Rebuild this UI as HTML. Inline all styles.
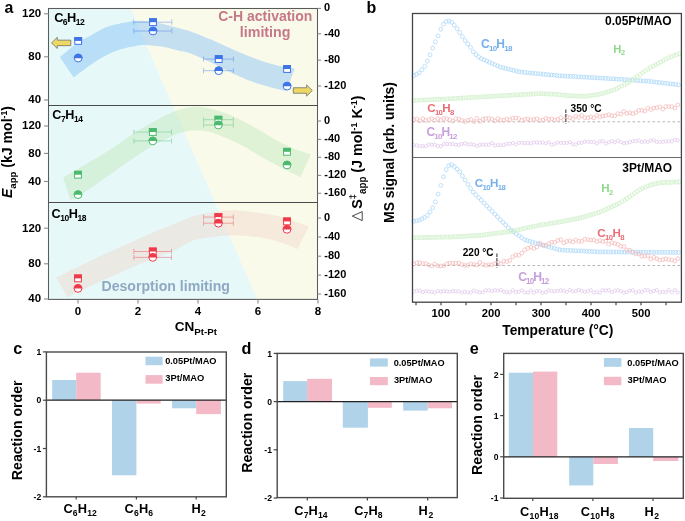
<!DOCTYPE html>
<html><head><meta charset="utf-8"><style>
html,body{margin:0;padding:0;background:#fff;width:685px;height:521px;overflow:hidden}
svg{display:block;font-family:"Liberation Sans",sans-serif;filter:blur(0.3px)}
</style></head><body>
<svg width="685" height="521" viewBox="0 0 685 521" font-family="Liberation Sans, sans-serif"><polygon points="48.5,8.5 130.6,8.5 257.5,299.4 48.5,299.4" fill="#e6f8f7"/>
<polygon points="130.6,8.5 317.5,8.5 317.5,299.4 257.5,299.4" fill="#fafaea"/>
<clipPath id="c1"><rect x="48.5" y="8.5" width="269.0" height="97.0"/></clipPath>
<clipPath id="c2"><rect x="48.5" y="105.5" width="269.0" height="97.0"/></clipPath>
<clipPath id="c3"><rect x="48.5" y="202.5" width="269.0" height="96.89999999999998"/></clipPath>
<path d="M59.9,57.1 C63.00,54.63 73.48,45.80 78.5,42.3 C83.52,38.80 85.27,38.63 90,36.1 C94.73,33.57 100.28,29.48 106.9,27.1 C113.52,24.72 123.37,22.82 129.7,21.8 C136.03,20.78 139.20,20.60 144.9,21 C150.60,21.40 158.05,22.95 163.9,24.2 C169.75,25.45 175.33,27.20 180,28.5 C184.67,29.80 186.27,29.95 191.9,32 C197.53,34.05 206.50,37.68 213.8,40.8 C221.10,43.92 228.40,47.60 235.7,50.7 C243.00,53.80 250.30,56.85 257.6,59.4 C264.90,61.95 273.30,64.47 279.5,66 C285.70,67.53 292.25,68.17 294.8,68.6 L286,91.2 C281.27,89.92 265.98,86.25 257.6,83.5 C249.22,80.75 243.00,77.98 235.7,74.7 C228.40,71.42 221.10,67.27 213.8,63.8 C206.50,60.33 197.53,56.03 191.9,53.9 C186.27,51.77 184.67,52.15 180,51 C175.33,49.85 169.75,47.98 163.9,47 C158.05,46.02 149.65,45.25 144.9,45.1 C140.15,44.95 140.15,45.15 135.4,46.1 C130.65,47.05 122.73,48.43 116.4,50.8 C110.07,53.17 104.52,55.87 97.4,60.3 C90.28,64.73 77.65,74.55 73.7,77.4 Z" fill="#73b7fa" fill-opacity="0.4" clip-path="url(#c1)"/>
<path d="M63.3,177.7 C67.90,174.97 82.90,166.08 90.9,161.3 C98.90,156.52 104.50,153.43 111.3,149 C118.10,144.57 124.88,139.12 131.7,134.7 C138.52,130.28 145.38,126.23 152.2,122.5 C159.02,118.77 166.30,114.85 172.6,112.3 C178.90,109.75 184.18,107.93 190,107.2 C195.82,106.47 201.67,106.92 207.5,107.9 C213.33,108.88 219.17,110.92 225,113.1 C230.83,115.28 236.67,118.08 242.5,121 C248.33,123.92 254.17,127.25 260,130.6 C265.83,133.95 271.67,138.03 277.5,141.1 C283.33,144.17 289.45,146.77 295,149 C300.55,151.23 308.17,153.58 310.8,154.5 L300.6,177.3 C296.75,175.35 284.27,169.15 277.5,165.6 C270.73,162.05 265.83,159.35 260,156 C254.17,152.65 248.33,148.57 242.5,145.5 C236.67,142.43 230.83,139.93 225,137.6 C219.17,135.27 213.33,132.63 207.5,131.5 C201.67,130.37 194.58,130.55 190,130.8 C185.42,131.05 182.90,132.17 180,133 C177.10,133.83 177.23,133.63 172.6,135.8 C167.97,137.97 159.02,142.08 152.2,146 C145.38,149.92 138.52,154.70 131.7,159.3 C124.88,163.90 118.10,168.83 111.3,173.6 C104.50,178.37 97.72,183.48 90.9,187.9 C84.08,192.32 73.82,198.07 70.4,200.1 Z" fill="#c4eac0" fill-opacity="0.5" clip-path="url(#c2)"/>
<path d="M56.1,277.7 C60.20,275.65 71.50,269.83 80.7,265.4 C89.90,260.97 102.80,255.02 111.3,251.1 C119.80,247.18 124.88,244.97 131.7,241.9 C138.52,238.83 145.38,235.60 152.2,232.7 C159.02,229.80 166.30,227.05 172.6,224.5 C178.90,221.95 185.37,219.07 190,217.4 C194.63,215.73 193.55,215.70 200.4,214.5 C207.25,213.30 220.88,210.40 231.1,210.2 C241.32,210.00 252.50,211.93 261.7,213.3 C270.90,214.67 278.45,216.18 286.3,218.4 C294.15,220.62 305.05,225.23 308.8,226.6 L297.5,249 C294.95,247.98 288.17,244.77 282.2,242.9 C276.23,241.03 270.22,239.08 261.7,237.8 C253.18,236.52 241.32,235.03 231.1,235.2 C220.88,235.37 207.25,237.67 200.4,238.8 C193.55,239.93 194.63,239.95 190,242 C185.37,244.05 178.90,248.22 172.6,251.1 C166.30,253.98 159.02,256.58 152.2,259.3 C145.38,262.02 138.52,264.52 131.7,267.4 C124.88,270.28 118.10,273.53 111.3,276.6 C104.50,279.67 98.22,282.38 90.9,285.8 C83.58,289.22 71.32,295.22 67.4,297.1 Z" fill="#f0d8cc" fill-opacity="0.45" clip-path="url(#c3)"/>
<rect x="48.5" y="8.5" width="269.0" height="290.9" fill="none" stroke="#5a5a5a" stroke-width="1.05"/>
<line x1="48.5" y1="105.5" x2="317.5" y2="105.5" stroke="#4a4a4a" stroke-width="1.05"/>
<line x1="48.5" y1="202.5" x2="317.5" y2="202.5" stroke="#4a4a4a" stroke-width="1.05"/>
<line x1="44.0" y1="13.8" x2="48.5" y2="13.8" stroke="#8a8a8a" stroke-width="1.1"/>
<text x="22.06" y="17.20" font-size="11" font-weight="bold" fill="#000" textLength="19.18" lengthAdjust="spacingAndGlyphs">120</text>
<line x1="44.0" y1="56.8" x2="48.5" y2="56.8" stroke="#8a8a8a" stroke-width="1.1"/>
<text x="28.39" y="60.20" font-size="11" font-weight="bold" fill="#000" textLength="12.78" lengthAdjust="spacingAndGlyphs">80</text>
<line x1="44.0" y1="100" x2="48.5" y2="100" stroke="#8a8a8a" stroke-width="1.1"/>
<text x="28.39" y="103.40" font-size="11" font-weight="bold" fill="#000" textLength="12.78" lengthAdjust="spacingAndGlyphs">40</text>
<line x1="44.0" y1="126" x2="48.5" y2="126" stroke="#8a8a8a" stroke-width="1.1"/>
<text x="22.06" y="129.40" font-size="11" font-weight="bold" fill="#000" textLength="19.18" lengthAdjust="spacingAndGlyphs">120</text>
<line x1="44.0" y1="153.4" x2="48.5" y2="153.4" stroke="#8a8a8a" stroke-width="1.1"/>
<text x="28.39" y="156.80" font-size="11" font-weight="bold" fill="#000" textLength="12.78" lengthAdjust="spacingAndGlyphs">80</text>
<line x1="44.0" y1="181.5" x2="48.5" y2="181.5" stroke="#8a8a8a" stroke-width="1.1"/>
<text x="28.39" y="184.90" font-size="11" font-weight="bold" fill="#000" textLength="12.78" lengthAdjust="spacingAndGlyphs">40</text>
<line x1="44.0" y1="228.2" x2="48.5" y2="228.2" stroke="#8a8a8a" stroke-width="1.1"/>
<text x="22.06" y="231.60" font-size="11" font-weight="bold" fill="#000" textLength="19.18" lengthAdjust="spacingAndGlyphs">120</text>
<line x1="44.0" y1="263.8" x2="48.5" y2="263.8" stroke="#8a8a8a" stroke-width="1.1"/>
<text x="28.39" y="267.20" font-size="11" font-weight="bold" fill="#000" textLength="12.78" lengthAdjust="spacingAndGlyphs">80</text>
<line x1="44.0" y1="299" x2="48.5" y2="299" stroke="#8a8a8a" stroke-width="1.1"/>
<text x="28.39" y="302.40" font-size="11" font-weight="bold" fill="#000" textLength="12.78" lengthAdjust="spacingAndGlyphs">40</text>
<line x1="317.5" y1="8.4" x2="321.1" y2="8.4" stroke="#8a8a8a" stroke-width="1.1"/>
<text x="324.00" y="11.40" fill="#000" text-anchor="start" ><tspan font-size="11.000" font-weight="bold" dy="0.000">0</tspan></text>
<line x1="317.5" y1="33.8" x2="321.1" y2="33.8" stroke="#8a8a8a" stroke-width="1.1"/>
<text x="324.30" y="36.80" fill="#000" text-anchor="start" ><tspan font-size="11.000" font-weight="bold" dy="0.000">-40</tspan></text>
<line x1="317.5" y1="60.2" x2="321.1" y2="60.2" stroke="#8a8a8a" stroke-width="1.1"/>
<text x="324.30" y="63.20" fill="#000" text-anchor="start" ><tspan font-size="11.000" font-weight="bold" dy="0.000">-80</tspan></text>
<line x1="317.5" y1="86" x2="321.1" y2="86" stroke="#8a8a8a" stroke-width="1.1"/>
<text x="324.30" y="89.00" fill="#000" text-anchor="start" ><tspan font-size="11.000" font-weight="bold" dy="0.000">-120</tspan></text>
<line x1="317.5" y1="121" x2="321.1" y2="121" stroke="#8a8a8a" stroke-width="1.1"/>
<text x="324.00" y="124.00" fill="#000" text-anchor="start" ><tspan font-size="11.000" font-weight="bold" dy="0.000">0</tspan></text>
<line x1="317.5" y1="139.4" x2="321.1" y2="139.4" stroke="#8a8a8a" stroke-width="1.1"/>
<text x="324.30" y="142.40" fill="#000" text-anchor="start" ><tspan font-size="11.000" font-weight="bold" dy="0.000">-40</tspan></text>
<line x1="317.5" y1="157.3" x2="321.1" y2="157.3" stroke="#8a8a8a" stroke-width="1.1"/>
<text x="324.30" y="160.30" fill="#000" text-anchor="start" ><tspan font-size="11.000" font-weight="bold" dy="0.000">-80</tspan></text>
<line x1="317.5" y1="175.4" x2="321.1" y2="175.4" stroke="#8a8a8a" stroke-width="1.1"/>
<text x="324.30" y="178.40" fill="#000" text-anchor="start" ><tspan font-size="11.000" font-weight="bold" dy="0.000">-120</tspan></text>
<line x1="317.5" y1="193.3" x2="321.1" y2="193.3" stroke="#8a8a8a" stroke-width="1.1"/>
<text x="324.30" y="196.30" fill="#000" text-anchor="start" ><tspan font-size="11.000" font-weight="bold" dy="0.000">-160</tspan></text>
<line x1="317.5" y1="218.1" x2="321.1" y2="218.1" stroke="#8a8a8a" stroke-width="1.1"/>
<text x="324.00" y="221.10" fill="#000" text-anchor="start" ><tspan font-size="11.000" font-weight="bold" dy="0.000">0</tspan></text>
<line x1="317.5" y1="237" x2="321.1" y2="237" stroke="#8a8a8a" stroke-width="1.1"/>
<text x="324.30" y="240.00" fill="#000" text-anchor="start" ><tspan font-size="11.000" font-weight="bold" dy="0.000">-40</tspan></text>
<line x1="317.5" y1="256.2" x2="321.1" y2="256.2" stroke="#8a8a8a" stroke-width="1.1"/>
<text x="324.30" y="259.20" fill="#000" text-anchor="start" ><tspan font-size="11.000" font-weight="bold" dy="0.000">-80</tspan></text>
<line x1="317.5" y1="275.1" x2="321.1" y2="275.1" stroke="#8a8a8a" stroke-width="1.1"/>
<text x="324.30" y="278.10" fill="#000" text-anchor="start" ><tspan font-size="11.000" font-weight="bold" dy="0.000">-120</tspan></text>
<line x1="317.5" y1="294" x2="321.1" y2="294" stroke="#8a8a8a" stroke-width="1.1"/>
<text x="324.30" y="297.00" fill="#000" text-anchor="start" ><tspan font-size="11.000" font-weight="bold" dy="0.000">-160</tspan></text>
<line x1="78" y1="299.4" x2="78" y2="303.4" stroke="#8a8a8a" stroke-width="1.1"/>
<text x="74.77" y="315.20" font-size="11" font-weight="bold" fill="#000" textLength="6.42" lengthAdjust="spacingAndGlyphs">0</text>
<line x1="138" y1="299.4" x2="138" y2="303.4" stroke="#8a8a8a" stroke-width="1.1"/>
<text x="134.82" y="315.20" font-size="11" font-weight="bold" fill="#000" textLength="6.42" lengthAdjust="spacingAndGlyphs">2</text>
<line x1="198" y1="299.4" x2="198" y2="303.4" stroke="#8a8a8a" stroke-width="1.1"/>
<text x="194.77" y="315.20" font-size="11" font-weight="bold" fill="#000" textLength="6.42" lengthAdjust="spacingAndGlyphs">4</text>
<line x1="258" y1="299.4" x2="258" y2="303.4" stroke="#8a8a8a" stroke-width="1.1"/>
<text x="254.77" y="315.20" font-size="11" font-weight="bold" fill="#000" textLength="6.42" lengthAdjust="spacingAndGlyphs">6</text>
<line x1="318" y1="299.4" x2="318" y2="303.4" stroke="#8a8a8a" stroke-width="1.1"/>
<text x="314.77" y="315.20" font-size="11" font-weight="bold" fill="#000" textLength="6.42" lengthAdjust="spacingAndGlyphs">8</text>
<g stroke="#3d74e6" stroke-width="0.9" opacity="0.45"><line x1="133.8" y1="22.2" x2="171.8" y2="22.2"/><line x1="133.8" y1="19.599999999999998" x2="133.8" y2="24.8"/><line x1="171.8" y1="19.599999999999998" x2="171.8" y2="24.8"/></g>
<g stroke="#3d74e6" stroke-width="0.9" opacity="0.45"><line x1="133.8" y1="31" x2="171.8" y2="31"/><line x1="133.8" y1="28.4" x2="133.8" y2="33.6"/><line x1="171.8" y1="28.4" x2="171.8" y2="33.6"/></g>
<g stroke="#3d74e6" stroke-width="0.9" opacity="0.45"><line x1="203.5" y1="59.1" x2="233.4" y2="59.1"/><line x1="203.5" y1="56.5" x2="203.5" y2="61.7"/><line x1="233.4" y1="56.5" x2="233.4" y2="61.7"/></g>
<g stroke="#3d74e6" stroke-width="0.9" opacity="0.45"><line x1="203.5" y1="70.7" x2="233.4" y2="70.7"/><line x1="203.5" y1="68.10000000000001" x2="203.5" y2="73.3"/><line x1="233.4" y1="68.10000000000001" x2="233.4" y2="73.3"/></g>
<rect x="74.80" y="37.50" width="6.80" height="6.80" fill="#fff" stroke="#3d74e6" stroke-width="1.0"/>
<rect x="74.30" y="37.00" width="7.8" height="3.90" fill="#3d74e6"/>
<circle cx="78.2" cy="58" r="3.9000000000000004" fill="#fff" stroke="#3d74e6" stroke-width="1.0"/>
<path d="M73.8,58.2 A4.4,4.4 0 0 1 82.60000000000001,58.2 Z" fill="#3d74e6"/>
<rect x="149.60" y="18.80" width="6.80" height="6.80" fill="#fff" stroke="#3d74e6" stroke-width="1.0"/>
<rect x="149.10" y="18.30" width="7.8" height="3.90" fill="#3d74e6"/>
<circle cx="153" cy="31" r="3.9000000000000004" fill="#fff" stroke="#3d74e6" stroke-width="1.0"/>
<path d="M148.6,31.2 A4.4,4.4 0 0 1 157.4,31.2 Z" fill="#3d74e6"/>
<rect x="215.30" y="55.70" width="6.80" height="6.80" fill="#fff" stroke="#3d74e6" stroke-width="1.0"/>
<rect x="214.80" y="55.20" width="7.8" height="3.90" fill="#3d74e6"/>
<circle cx="218.7" cy="70.7" r="3.9000000000000004" fill="#fff" stroke="#3d74e6" stroke-width="1.0"/>
<path d="M214.29999999999998,70.9 A4.4,4.4 0 0 1 223.1,70.9 Z" fill="#3d74e6"/>
<rect x="283.70" y="65.60" width="6.80" height="6.80" fill="#fff" stroke="#3d74e6" stroke-width="1.0"/>
<rect x="283.20" y="65.10" width="7.8" height="3.90" fill="#3d74e6"/>
<circle cx="287.1" cy="86.1" r="3.9000000000000004" fill="#fff" stroke="#3d74e6" stroke-width="1.0"/>
<path d="M282.70000000000005,86.3 A4.4,4.4 0 0 1 291.5,86.3 Z" fill="#3d74e6"/>
<g stroke="#4cba6e" stroke-width="0.9" opacity="0.45"><line x1="133.9" y1="132" x2="171.5" y2="132"/><line x1="133.9" y1="129.4" x2="133.9" y2="134.6"/><line x1="171.5" y1="129.4" x2="171.5" y2="134.6"/></g>
<g stroke="#4cba6e" stroke-width="0.9" opacity="0.45"><line x1="133.9" y1="140.9" x2="171.5" y2="140.9"/><line x1="133.9" y1="138.3" x2="133.9" y2="143.5"/><line x1="171.5" y1="138.3" x2="171.5" y2="143.5"/></g>
<g stroke="#4cba6e" stroke-width="0.9" opacity="0.45"><line x1="203.6" y1="119.7" x2="233.3" y2="119.7"/><line x1="203.6" y1="117.10000000000001" x2="203.6" y2="122.3"/><line x1="233.3" y1="117.10000000000001" x2="233.3" y2="122.3"/></g>
<g stroke="#4cba6e" stroke-width="0.9" opacity="0.45"><line x1="203.6" y1="125" x2="233.3" y2="125"/><line x1="203.6" y1="122.4" x2="203.6" y2="127.6"/><line x1="233.3" y1="122.4" x2="233.3" y2="127.6"/></g>
<rect x="74.60" y="171.30" width="6.80" height="6.80" fill="#fff" stroke="#4cba6e" stroke-width="1.0"/>
<rect x="74.10" y="170.80" width="7.8" height="3.90" fill="#4cba6e"/>
<circle cx="78" cy="194.6" r="3.9000000000000004" fill="#fff" stroke="#4cba6e" stroke-width="1.0"/>
<path d="M73.6,194.79999999999998 A4.4,4.4 0 0 1 82.4,194.79999999999998 Z" fill="#4cba6e"/>
<rect x="149.40" y="128.60" width="6.80" height="6.80" fill="#fff" stroke="#4cba6e" stroke-width="1.0"/>
<rect x="148.90" y="128.10" width="7.8" height="3.90" fill="#4cba6e"/>
<circle cx="152.8" cy="140.9" r="3.9000000000000004" fill="#fff" stroke="#4cba6e" stroke-width="1.0"/>
<path d="M148.4,141.1 A4.4,4.4 0 0 1 157.20000000000002,141.1 Z" fill="#4cba6e"/>
<rect x="215.00" y="116.30" width="6.80" height="6.80" fill="#fff" stroke="#4cba6e" stroke-width="1.0"/>
<rect x="214.50" y="115.80" width="7.8" height="3.90" fill="#4cba6e"/>
<circle cx="218.4" cy="125" r="3.9000000000000004" fill="#fff" stroke="#4cba6e" stroke-width="1.0"/>
<path d="M214.0,125.2 A4.4,4.4 0 0 1 222.8,125.2 Z" fill="#4cba6e"/>
<rect x="283.60" y="148.40" width="6.80" height="6.80" fill="#fff" stroke="#4cba6e" stroke-width="1.0"/>
<rect x="283.10" y="147.90" width="7.8" height="3.90" fill="#4cba6e"/>
<circle cx="287" cy="165" r="3.9000000000000004" fill="#fff" stroke="#4cba6e" stroke-width="1.0"/>
<path d="M282.6,165.2 A4.4,4.4 0 0 1 291.4,165.2 Z" fill="#4cba6e"/>
<g stroke="#ef3a4a" stroke-width="0.9" opacity="0.45"><line x1="133.9" y1="251.5" x2="171.5" y2="251.5"/><line x1="133.9" y1="248.9" x2="133.9" y2="254.1"/><line x1="171.5" y1="248.9" x2="171.5" y2="254.1"/></g>
<g stroke="#ef3a4a" stroke-width="0.9" opacity="0.45"><line x1="133.9" y1="257.4" x2="171.5" y2="257.4"/><line x1="133.9" y1="254.79999999999998" x2="133.9" y2="260.0"/><line x1="171.5" y1="254.79999999999998" x2="171.5" y2="260.0"/></g>
<g stroke="#ef3a4a" stroke-width="0.9" opacity="0.45"><line x1="203.6" y1="217.1" x2="233.3" y2="217.1"/><line x1="203.6" y1="214.5" x2="203.6" y2="219.7"/><line x1="233.3" y1="214.5" x2="233.3" y2="219.7"/></g>
<g stroke="#ef3a4a" stroke-width="0.9" opacity="0.45"><line x1="203.6" y1="223.2" x2="233.3" y2="223.2"/><line x1="203.6" y1="220.6" x2="203.6" y2="225.79999999999998"/><line x1="233.3" y1="220.6" x2="233.3" y2="225.79999999999998"/></g>
<rect x="74.60" y="275.00" width="6.80" height="6.80" fill="#fff" stroke="#ef3a4a" stroke-width="1.0"/>
<rect x="74.10" y="274.50" width="7.8" height="3.90" fill="#ef3a4a"/>
<circle cx="78" cy="288.4" r="3.9000000000000004" fill="#fff" stroke="#ef3a4a" stroke-width="1.0"/>
<path d="M73.6,288.59999999999997 A4.4,4.4 0 0 1 82.4,288.59999999999997 Z" fill="#ef3a4a"/>
<rect x="149.40" y="248.10" width="6.80" height="6.80" fill="#fff" stroke="#ef3a4a" stroke-width="1.0"/>
<rect x="148.90" y="247.60" width="7.8" height="3.90" fill="#ef3a4a"/>
<circle cx="152.8" cy="257.4" r="3.9000000000000004" fill="#fff" stroke="#ef3a4a" stroke-width="1.0"/>
<path d="M148.4,257.59999999999997 A4.4,4.4 0 0 1 157.20000000000002,257.59999999999997 Z" fill="#ef3a4a"/>
<rect x="215.00" y="213.70" width="6.80" height="6.80" fill="#fff" stroke="#ef3a4a" stroke-width="1.0"/>
<rect x="214.50" y="213.20" width="7.8" height="3.90" fill="#ef3a4a"/>
<circle cx="218.4" cy="223.2" r="3.9000000000000004" fill="#fff" stroke="#ef3a4a" stroke-width="1.0"/>
<path d="M214.0,223.39999999999998 A4.4,4.4 0 0 1 222.8,223.39999999999998 Z" fill="#ef3a4a"/>
<rect x="283.60" y="218.00" width="6.80" height="6.80" fill="#fff" stroke="#ef3a4a" stroke-width="1.0"/>
<rect x="283.10" y="217.50" width="7.8" height="3.90" fill="#ef3a4a"/>
<circle cx="287" cy="229.3" r="3.9000000000000004" fill="#fff" stroke="#ef3a4a" stroke-width="1.0"/>
<path d="M282.6,229.5 A4.4,4.4 0 0 1 291.4,229.5 Z" fill="#ef3a4a"/>
<polygon points="51.60,42.90 57.30,37.30 57.30,40.15 70.80,40.15 70.80,45.65 57.30,45.65 57.30,48.50" fill="#edd862" stroke="#707070" stroke-width="0.8"/>
<polygon points="312.30,90.50 306.60,84.90 306.60,87.75 293.30,87.75 293.30,93.25 306.60,93.25 306.60,96.10" fill="#edd862" stroke="#707070" stroke-width="0.8"/>
<text x="54.19" y="21.70" fill="#000" text-anchor="start" textLength="30.49" lengthAdjust="spacing"><tspan font-size="12.800" font-weight="bold" dy="0.000">C</tspan><tspan font-size="8.576" font-weight="bold" dy="3.072">6</tspan><tspan font-size="12.800" font-weight="bold" dy="-3.072">H</tspan><tspan font-size="8.576" font-weight="bold" dy="3.072">12</tspan></text>
<text x="52.20" y="119.00" fill="#000" text-anchor="start" textLength="30.72" lengthAdjust="spacing"><tspan font-size="12.600" font-weight="bold" dy="0.000">C</tspan><tspan font-size="8.442" font-weight="bold" dy="3.024">7</tspan><tspan font-size="12.600" font-weight="bold" dy="-3.024">H</tspan><tspan font-size="8.442" font-weight="bold" dy="3.024">14</tspan></text>
<text x="51.49" y="217.90" fill="#000" text-anchor="start" textLength="35.00" lengthAdjust="spacing"><tspan font-size="12.700" font-weight="bold" dy="0.000">C</tspan><tspan font-size="8.509" font-weight="bold" dy="3.048">10</tspan><tspan font-size="12.700" font-weight="bold" dy="-3.048">H</tspan><tspan font-size="8.509" font-weight="bold" dy="3.048">18</tspan></text>
<text x="218.24" y="20.60" fill="#c57888" text-anchor="start" ><tspan font-size="14.003" font-weight="bold" dy="0.000">C-H activation</tspan></text>
<text x="239.80" y="37.20" fill="#c57888" text-anchor="start" ><tspan font-size="14.252" font-weight="bold" dy="0.000">limiting</tspan></text>
<text x="101.51" y="290.80" fill="#8fa9c4" text-anchor="start" ><tspan font-size="14.103" font-weight="bold" dy="0.000">Desorption limiting</tspan></text>
<text x="4.52" y="12.50" font-size="16.4" font-weight="bold" fill="#000" textLength="8.85" lengthAdjust="spacingAndGlyphs">a</text>
<text x="174.66" y="330.80" fill="#000" text-anchor="start" ><tspan font-size="13.562" font-weight="bold" dy="0.000">CN</tspan><tspan font-size="9.765" font-weight="bold" dy="3.797">Pt-Pt</tspan></text>
<text transform="translate(12.40,197.80) scale(1.04,1) rotate(-90)" x="-0.28" y="0" fill="#000"><tspan font-size="14.105" font-weight="bold" font-style="italic" dy="0.000">E</tspan><tspan font-size="9.592" font-weight="bold" dy="3.103">app</tspan><tspan font-size="14.105" font-weight="bold" dy="-3.103"> (kJ mol</tspan><tspan font-size="8.745" font-weight="bold" dy="-5.078">-1</tspan><tspan font-size="14.105" font-weight="bold" dy="5.078">)</tspan></text>
<polygon points="352.3,216.1 362.2,211.6 362.2,220.6" fill="none" stroke="#333" stroke-width="0.9" stroke-linejoin="miter"/>
<text transform="translate(362.40,208.30) scale(1.04,1) rotate(-90)" x="-0.43" y="0" fill="#000"><tspan font-size="14.349" font-weight="bold" dy="0.000">S</tspan><tspan font-size="9.327" font-weight="bold" dy="-5.740">‡</tspan><tspan font-size="9.758" font-weight="bold" dy="8.897">app</tspan><tspan font-size="14.349" font-weight="bold" dy="-3.157"> (J mol</tspan><tspan font-size="8.897" font-weight="bold" dy="-5.166">-1</tspan><tspan font-size="14.349" font-weight="bold" dy="5.166"> K</tspan><tspan font-size="8.897" font-weight="bold" dy="-5.166">-1</tspan><tspan font-size="14.349" font-weight="bold" dy="5.166">)</tspan></text>
<text x="366.38" y="12.60" font-size="16" font-weight="bold" fill="#000" textLength="9.77" lengthAdjust="spacingAndGlyphs">b</text>
<g fill="none" stroke="#b0d9f8" stroke-width="0.8"><circle cx="413.80" cy="75.60" r="1.95"/><circle cx="416.50" cy="74.25" r="1.95"/><circle cx="419.20" cy="72.78" r="1.95"/><circle cx="421.90" cy="69.81" r="1.95"/><circle cx="424.60" cy="66.33" r="1.95"/><circle cx="427.30" cy="61.04" r="1.95"/><circle cx="430.00" cy="54.93" r="1.95"/><circle cx="432.70" cy="48.03" r="1.95"/><circle cx="435.40" cy="41.77" r="1.95"/><circle cx="438.10" cy="35.76" r="1.95"/><circle cx="440.80" cy="29.24" r="1.95"/><circle cx="443.50" cy="24.24" r="1.95"/><circle cx="446.20" cy="21.42" r="1.95"/><circle cx="448.90" cy="21.10" r="1.95"/><circle cx="451.60" cy="22.26" r="1.95"/><circle cx="454.30" cy="25.01" r="1.95"/><circle cx="457.00" cy="28.68" r="1.95"/><circle cx="459.70" cy="32.50" r="1.95"/><circle cx="462.40" cy="36.52" r="1.95"/><circle cx="465.10" cy="40.52" r="1.95"/><circle cx="467.80" cy="43.87" r="1.95"/><circle cx="470.50" cy="47.47" r="1.95"/><circle cx="473.20" cy="51.73" r="1.95"/><circle cx="475.90" cy="54.58" r="1.95"/><circle cx="478.60" cy="56.83" r="1.95"/><circle cx="481.30" cy="58.58" r="1.95"/><circle cx="484.00" cy="59.80" r="1.95"/><circle cx="486.70" cy="61.01" r="1.95"/><circle cx="489.40" cy="62.23" r="1.95"/><circle cx="492.10" cy="63.44" r="1.95"/><circle cx="494.80" cy="64.66" r="1.95"/><circle cx="497.50" cy="65.87" r="1.95"/><circle cx="500.20" cy="67.05" r="1.95"/><circle cx="502.90" cy="67.72" r="1.95"/><circle cx="505.60" cy="68.40" r="1.95"/><circle cx="508.30" cy="69.07" r="1.95"/><circle cx="511.00" cy="69.75" r="1.95"/><circle cx="513.70" cy="70.42" r="1.95"/><circle cx="516.40" cy="71.10" r="1.95"/><circle cx="519.10" cy="71.77" r="1.95"/><circle cx="521.80" cy="72.17" r="1.95"/><circle cx="524.50" cy="72.43" r="1.95"/><circle cx="527.20" cy="72.68" r="1.95"/><circle cx="529.90" cy="72.94" r="1.95"/><circle cx="532.60" cy="73.20" r="1.95"/><circle cx="535.30" cy="73.45" r="1.95"/><circle cx="538.00" cy="73.71" r="1.95"/><circle cx="540.70" cy="73.97" r="1.95"/><circle cx="543.40" cy="74.22" r="1.95"/><circle cx="546.10" cy="74.48" r="1.95"/><circle cx="548.80" cy="74.74" r="1.95"/><circle cx="551.50" cy="74.99" r="1.95"/><circle cx="554.20" cy="75.25" r="1.95"/><circle cx="556.90" cy="75.51" r="1.95"/><circle cx="559.60" cy="75.76" r="1.95"/><circle cx="562.30" cy="75.93" r="1.95"/><circle cx="565.00" cy="76.08" r="1.95"/><circle cx="567.70" cy="76.22" r="1.95"/><circle cx="570.40" cy="76.37" r="1.95"/><circle cx="573.10" cy="76.52" r="1.95"/><circle cx="575.80" cy="76.67" r="1.95"/><circle cx="578.50" cy="76.82" r="1.95"/><circle cx="581.20" cy="76.97" r="1.95"/><circle cx="583.90" cy="77.11" r="1.95"/><circle cx="586.60" cy="77.26" r="1.95"/><circle cx="589.30" cy="77.41" r="1.95"/><circle cx="592.00" cy="77.56" r="1.95"/><circle cx="594.70" cy="77.71" r="1.95"/><circle cx="597.40" cy="77.86" r="1.95"/><circle cx="600.10" cy="78.01" r="1.95"/><circle cx="602.80" cy="78.18" r="1.95"/><circle cx="605.50" cy="78.36" r="1.95"/><circle cx="608.20" cy="78.53" r="1.95"/><circle cx="610.90" cy="78.71" r="1.95"/><circle cx="613.60" cy="78.88" r="1.95"/><circle cx="616.30" cy="79.06" r="1.95"/><circle cx="619.00" cy="79.24" r="1.95"/><circle cx="621.70" cy="79.42" r="1.95"/><circle cx="624.40" cy="79.61" r="1.95"/><circle cx="627.10" cy="79.80" r="1.95"/><circle cx="629.80" cy="79.99" r="1.95"/><circle cx="632.50" cy="80.18" r="1.95"/><circle cx="635.20" cy="80.36" r="1.95"/><circle cx="637.90" cy="80.55" r="1.95"/><circle cx="640.60" cy="80.74" r="1.95"/><circle cx="643.30" cy="80.93" r="1.95"/><circle cx="646.00" cy="81.12" r="1.95"/><circle cx="648.70" cy="81.31" r="1.95"/><circle cx="651.40" cy="81.57" r="1.95"/><circle cx="654.10" cy="81.89" r="1.95"/><circle cx="656.80" cy="82.21" r="1.95"/><circle cx="659.50" cy="82.53" r="1.95"/><circle cx="662.20" cy="82.86" r="1.95"/><circle cx="664.90" cy="83.18" r="1.95"/><circle cx="667.60" cy="83.50" r="1.95"/><circle cx="670.30" cy="83.82" r="1.95"/><circle cx="673.00" cy="84.15" r="1.95"/><circle cx="675.70" cy="84.47" r="1.95"/><circle cx="678.40" cy="84.79" r="1.95"/></g>
<g fill="none" stroke="#cff0c9" stroke-width="0.8"><circle cx="413.80" cy="100.46" r="2.0"/><circle cx="416.40" cy="100.34" r="2.0"/><circle cx="419.00" cy="100.22" r="2.0"/><circle cx="421.60" cy="100.10" r="2.0"/><circle cx="424.20" cy="99.99" r="2.0"/><circle cx="426.80" cy="99.87" r="2.0"/><circle cx="429.40" cy="99.75" r="2.0"/><circle cx="432.00" cy="99.63" r="2.0"/><circle cx="434.60" cy="99.51" r="2.0"/><circle cx="437.20" cy="99.39" r="2.0"/><circle cx="439.80" cy="99.27" r="2.0"/><circle cx="442.40" cy="99.15" r="2.0"/><circle cx="445.00" cy="99.03" r="2.0"/><circle cx="447.60" cy="98.91" r="2.0"/><circle cx="450.20" cy="98.79" r="2.0"/><circle cx="452.80" cy="98.63" r="2.0"/><circle cx="455.40" cy="98.48" r="2.0"/><circle cx="458.00" cy="98.32" r="2.0"/><circle cx="460.60" cy="98.16" r="2.0"/><circle cx="463.20" cy="98.01" r="2.0"/><circle cx="465.80" cy="97.85" r="2.0"/><circle cx="468.40" cy="97.70" r="2.0"/><circle cx="471.00" cy="97.54" r="2.0"/><circle cx="473.60" cy="97.38" r="2.0"/><circle cx="476.20" cy="97.23" r="2.0"/><circle cx="478.80" cy="97.07" r="2.0"/><circle cx="481.40" cy="96.92" r="2.0"/><circle cx="484.00" cy="96.77" r="2.0"/><circle cx="486.60" cy="96.63" r="2.0"/><circle cx="489.20" cy="96.48" r="2.0"/><circle cx="491.80" cy="96.33" r="2.0"/><circle cx="494.40" cy="96.18" r="2.0"/><circle cx="497.00" cy="96.04" r="2.0"/><circle cx="499.60" cy="95.89" r="2.0"/><circle cx="502.20" cy="95.74" r="2.0"/><circle cx="504.80" cy="95.59" r="2.0"/><circle cx="507.40" cy="95.45" r="2.0"/><circle cx="510.00" cy="95.30" r="2.0"/><circle cx="512.60" cy="95.15" r="2.0"/><circle cx="515.20" cy="95.01" r="2.0"/><circle cx="517.80" cy="94.86" r="2.0"/><circle cx="520.40" cy="94.71" r="2.0"/><circle cx="523.00" cy="94.56" r="2.0"/><circle cx="525.60" cy="94.42" r="2.0"/><circle cx="528.20" cy="94.27" r="2.0"/><circle cx="530.80" cy="94.12" r="2.0"/><circle cx="533.40" cy="93.97" r="2.0"/><circle cx="536.00" cy="93.83" r="2.0"/><circle cx="538.60" cy="93.68" r="2.0"/><circle cx="541.20" cy="93.65" r="2.0"/><circle cx="543.80" cy="93.75" r="2.0"/><circle cx="546.40" cy="93.86" r="2.0"/><circle cx="549.00" cy="93.96" r="2.0"/><circle cx="551.60" cy="94.06" r="2.0"/><circle cx="554.20" cy="94.17" r="2.0"/><circle cx="556.80" cy="94.39" r="2.0"/><circle cx="559.40" cy="94.67" r="2.0"/><circle cx="562.00" cy="94.95" r="2.0"/><circle cx="564.60" cy="95.22" r="2.0"/><circle cx="567.20" cy="95.50" r="2.0"/><circle cx="569.80" cy="95.78" r="2.0"/><circle cx="572.40" cy="95.88" r="2.0"/><circle cx="575.00" cy="95.97" r="2.0"/><circle cx="577.60" cy="96.05" r="2.0"/><circle cx="580.20" cy="96.14" r="2.0"/><circle cx="582.80" cy="96.23" r="2.0"/><circle cx="585.40" cy="96.24" r="2.0"/><circle cx="588.00" cy="95.88" r="2.0"/><circle cx="590.60" cy="95.52" r="2.0"/><circle cx="593.20" cy="95.15" r="2.0"/><circle cx="595.80" cy="94.79" r="2.0"/><circle cx="598.40" cy="94.42" r="2.0"/><circle cx="601.00" cy="93.89" r="2.0"/><circle cx="603.60" cy="93.10" r="2.0"/><circle cx="606.20" cy="92.30" r="2.0"/><circle cx="608.80" cy="91.50" r="2.0"/><circle cx="611.40" cy="90.70" r="2.0"/><circle cx="614.00" cy="89.91" r="2.0"/><circle cx="616.60" cy="88.74" r="2.0"/><circle cx="619.20" cy="87.33" r="2.0"/><circle cx="621.80" cy="85.93" r="2.0"/><circle cx="624.40" cy="84.52" r="2.0"/><circle cx="627.00" cy="83.12" r="2.0"/><circle cx="629.60" cy="81.72" r="2.0"/><circle cx="632.20" cy="79.96" r="2.0"/><circle cx="634.80" cy="78.14" r="2.0"/><circle cx="637.40" cy="76.32" r="2.0"/><circle cx="640.00" cy="74.50" r="2.0"/><circle cx="642.60" cy="72.73" r="2.0"/><circle cx="645.20" cy="70.96" r="2.0"/><circle cx="647.80" cy="69.20" r="2.0"/><circle cx="650.40" cy="67.49" r="2.0"/><circle cx="653.00" cy="66.11" r="2.0"/><circle cx="655.60" cy="64.73" r="2.0"/><circle cx="658.20" cy="63.35" r="2.0"/><circle cx="660.80" cy="61.98" r="2.0"/><circle cx="663.40" cy="60.60" r="2.0"/><circle cx="666.00" cy="59.22" r="2.0"/><circle cx="668.60" cy="57.84" r="2.0"/><circle cx="671.20" cy="56.65" r="2.0"/><circle cx="673.80" cy="55.68" r="2.0"/><circle cx="676.40" cy="54.71" r="2.0"/><circle cx="679.00" cy="53.75" r="2.0"/></g>
<line x1="412.5" y1="121.8" x2="681.4" y2="121.8" stroke="#b4b4b4" stroke-width="1" stroke-dasharray="2.6,2.4"/>
<g fill="none" stroke="#f5bdbd" stroke-width="0.8"><circle cx="413.80" cy="119.66" r="1.9"/><circle cx="416.80" cy="119.02" r="1.9"/><circle cx="419.80" cy="120.80" r="1.9"/><circle cx="422.80" cy="118.70" r="1.9"/><circle cx="425.80" cy="120.35" r="1.9"/><circle cx="428.80" cy="119.72" r="1.9"/><circle cx="431.80" cy="118.59" r="1.9"/><circle cx="434.80" cy="120.19" r="1.9"/><circle cx="437.80" cy="118.48" r="1.9"/><circle cx="440.80" cy="119.89" r="1.9"/><circle cx="443.80" cy="118.56" r="1.9"/><circle cx="446.80" cy="118.61" r="1.9"/><circle cx="449.80" cy="119.80" r="1.9"/><circle cx="452.80" cy="121.23" r="1.9"/><circle cx="455.80" cy="118.68" r="1.9"/><circle cx="458.80" cy="119.02" r="1.9"/><circle cx="461.80" cy="120.45" r="1.9"/><circle cx="464.80" cy="121.59" r="1.9"/><circle cx="467.80" cy="120.23" r="1.9"/><circle cx="470.80" cy="119.56" r="1.9"/><circle cx="473.80" cy="121.63" r="1.9"/><circle cx="476.80" cy="118.27" r="1.9"/><circle cx="479.80" cy="121.17" r="1.9"/><circle cx="482.80" cy="119.10" r="1.9"/><circle cx="485.80" cy="118.56" r="1.9"/><circle cx="488.80" cy="118.45" r="1.9"/><circle cx="491.80" cy="119.11" r="1.9"/><circle cx="494.80" cy="120.92" r="1.9"/><circle cx="497.80" cy="118.62" r="1.9"/><circle cx="500.80" cy="120.04" r="1.9"/><circle cx="503.80" cy="120.23" r="1.9"/><circle cx="506.80" cy="119.25" r="1.9"/><circle cx="509.80" cy="119.86" r="1.9"/><circle cx="512.80" cy="118.10" r="1.9"/><circle cx="515.80" cy="118.07" r="1.9"/><circle cx="518.80" cy="118.57" r="1.9"/><circle cx="521.80" cy="120.26" r="1.9"/><circle cx="524.80" cy="119.34" r="1.9"/><circle cx="527.80" cy="118.91" r="1.9"/><circle cx="530.80" cy="119.87" r="1.9"/><circle cx="533.80" cy="119.37" r="1.9"/><circle cx="536.80" cy="118.80" r="1.9"/><circle cx="539.80" cy="120.56" r="1.9"/><circle cx="542.80" cy="120.08" r="1.9"/><circle cx="545.80" cy="118.29" r="1.9"/><circle cx="548.80" cy="119.33" r="1.9"/><circle cx="551.80" cy="119.00" r="1.9"/><circle cx="554.80" cy="120.11" r="1.9"/><circle cx="557.80" cy="119.44" r="1.9"/><circle cx="560.80" cy="117.70" r="1.9"/><circle cx="563.80" cy="120.04" r="1.9"/><circle cx="566.80" cy="116.79" r="1.9"/><circle cx="569.80" cy="117.72" r="1.9"/><circle cx="572.80" cy="118.74" r="1.9"/><circle cx="575.80" cy="116.36" r="1.9"/><circle cx="578.80" cy="117.37" r="1.9"/><circle cx="581.80" cy="115.55" r="1.9"/><circle cx="584.80" cy="117.62" r="1.9"/><circle cx="587.80" cy="117.77" r="1.9"/><circle cx="590.80" cy="116.88" r="1.9"/><circle cx="593.80" cy="117.77" r="1.9"/><circle cx="596.80" cy="115.54" r="1.9"/><circle cx="599.80" cy="116.72" r="1.9"/><circle cx="602.80" cy="115.99" r="1.9"/><circle cx="605.80" cy="115.56" r="1.9"/><circle cx="608.80" cy="114.74" r="1.9"/><circle cx="611.80" cy="115.75" r="1.9"/><circle cx="614.80" cy="115.75" r="1.9"/><circle cx="617.80" cy="113.68" r="1.9"/><circle cx="620.80" cy="113.99" r="1.9"/><circle cx="623.80" cy="111.44" r="1.9"/><circle cx="626.80" cy="113.38" r="1.9"/><circle cx="629.80" cy="112.80" r="1.9"/><circle cx="632.80" cy="113.68" r="1.9"/><circle cx="635.80" cy="112.68" r="1.9"/><circle cx="638.80" cy="110.37" r="1.9"/><circle cx="641.80" cy="110.37" r="1.9"/><circle cx="644.80" cy="111.02" r="1.9"/><circle cx="647.80" cy="108.33" r="1.9"/><circle cx="650.80" cy="109.55" r="1.9"/><circle cx="653.80" cy="108.12" r="1.9"/><circle cx="656.80" cy="107.57" r="1.9"/><circle cx="659.80" cy="107.00" r="1.9"/><circle cx="662.80" cy="109.19" r="1.9"/><circle cx="665.80" cy="106.52" r="1.9"/><circle cx="668.80" cy="106.58" r="1.9"/><circle cx="671.80" cy="106.73" r="1.9"/><circle cx="674.80" cy="108.09" r="1.9"/><circle cx="677.80" cy="104.88" r="1.9"/></g>
<g fill="none" stroke="#e2ccee" stroke-width="0.8"><circle cx="413.80" cy="145.15" r="1.6"/><circle cx="416.80" cy="145.39" r="1.6"/><circle cx="419.80" cy="146.29" r="1.6"/><circle cx="422.80" cy="146.07" r="1.6"/><circle cx="425.80" cy="146.16" r="1.6"/><circle cx="428.80" cy="144.49" r="1.6"/><circle cx="431.80" cy="144.83" r="1.6"/><circle cx="434.80" cy="144.64" r="1.6"/><circle cx="437.80" cy="146.07" r="1.6"/><circle cx="440.80" cy="146.24" r="1.6"/><circle cx="443.80" cy="143.95" r="1.6"/><circle cx="446.80" cy="143.98" r="1.6"/><circle cx="449.80" cy="144.10" r="1.6"/><circle cx="452.80" cy="144.07" r="1.6"/><circle cx="455.80" cy="144.73" r="1.6"/><circle cx="458.80" cy="144.99" r="1.6"/><circle cx="461.80" cy="144.04" r="1.6"/><circle cx="464.80" cy="143.28" r="1.6"/><circle cx="467.80" cy="144.40" r="1.6"/><circle cx="470.80" cy="144.23" r="1.6"/><circle cx="473.80" cy="144.74" r="1.6"/><circle cx="476.80" cy="145.79" r="1.6"/><circle cx="479.80" cy="145.02" r="1.6"/><circle cx="482.80" cy="144.49" r="1.6"/><circle cx="485.80" cy="144.74" r="1.6"/><circle cx="488.80" cy="144.87" r="1.6"/><circle cx="491.80" cy="143.09" r="1.6"/><circle cx="494.80" cy="145.42" r="1.6"/><circle cx="497.80" cy="145.05" r="1.6"/><circle cx="500.80" cy="145.27" r="1.6"/><circle cx="503.80" cy="145.02" r="1.6"/><circle cx="506.80" cy="143.85" r="1.6"/><circle cx="509.80" cy="143.83" r="1.6"/><circle cx="512.80" cy="142.97" r="1.6"/><circle cx="515.80" cy="144.42" r="1.6"/><circle cx="518.80" cy="142.78" r="1.6"/><circle cx="521.80" cy="142.76" r="1.6"/><circle cx="524.80" cy="143.12" r="1.6"/><circle cx="527.80" cy="142.95" r="1.6"/><circle cx="530.80" cy="143.41" r="1.6"/><circle cx="533.80" cy="142.57" r="1.6"/><circle cx="536.80" cy="142.38" r="1.6"/><circle cx="539.80" cy="142.77" r="1.6"/><circle cx="542.80" cy="142.59" r="1.6"/><circle cx="545.80" cy="143.29" r="1.6"/><circle cx="548.80" cy="142.31" r="1.6"/><circle cx="551.80" cy="144.65" r="1.6"/><circle cx="554.80" cy="143.88" r="1.6"/><circle cx="557.80" cy="142.54" r="1.6"/><circle cx="560.80" cy="142.79" r="1.6"/><circle cx="563.80" cy="142.97" r="1.6"/><circle cx="566.80" cy="142.94" r="1.6"/><circle cx="569.80" cy="142.18" r="1.6"/><circle cx="572.80" cy="144.14" r="1.6"/><circle cx="575.80" cy="144.46" r="1.6"/><circle cx="578.80" cy="142.91" r="1.6"/><circle cx="581.80" cy="142.88" r="1.6"/><circle cx="584.80" cy="141.68" r="1.6"/><circle cx="587.80" cy="141.65" r="1.6"/><circle cx="590.80" cy="142.24" r="1.6"/><circle cx="593.80" cy="141.95" r="1.6"/><circle cx="596.80" cy="143.45" r="1.6"/><circle cx="599.80" cy="141.50" r="1.6"/><circle cx="602.80" cy="141.03" r="1.6"/><circle cx="605.80" cy="143.55" r="1.6"/><circle cx="608.80" cy="142.29" r="1.6"/><circle cx="611.80" cy="141.14" r="1.6"/><circle cx="614.80" cy="142.17" r="1.6"/><circle cx="617.80" cy="140.65" r="1.6"/><circle cx="620.80" cy="141.97" r="1.6"/><circle cx="623.80" cy="143.15" r="1.6"/><circle cx="626.80" cy="142.75" r="1.6"/><circle cx="629.80" cy="142.20" r="1.6"/><circle cx="632.80" cy="140.91" r="1.6"/><circle cx="635.80" cy="141.12" r="1.6"/><circle cx="638.80" cy="140.48" r="1.6"/><circle cx="641.80" cy="142.10" r="1.6"/><circle cx="644.80" cy="141.35" r="1.6"/><circle cx="647.80" cy="141.96" r="1.6"/><circle cx="650.80" cy="140.62" r="1.6"/><circle cx="653.80" cy="140.24" r="1.6"/><circle cx="656.80" cy="141.81" r="1.6"/><circle cx="659.80" cy="142.22" r="1.6"/><circle cx="662.80" cy="141.77" r="1.6"/><circle cx="665.80" cy="141.56" r="1.6"/><circle cx="668.80" cy="141.51" r="1.6"/><circle cx="671.80" cy="141.21" r="1.6"/><circle cx="674.80" cy="139.70" r="1.6"/><circle cx="677.80" cy="140.43" r="1.6"/></g>
<line x1="565.8" y1="109.5" x2="565.8" y2="123.4" stroke="#5a5a5a" stroke-width="1.3" stroke-dasharray="3.6,0.9"/>
<text x="570.50" y="111.80" fill="#000" text-anchor="start" ><tspan font-size="10.166" font-weight="bold" dy="0.000">350 °C</tspan></text>
<text x="481.02" y="47.90" fill="#74b0ec" text-anchor="start" textLength="31.46" lengthAdjust="spacing"><tspan font-size="12.000" font-weight="bold" dy="0.000">C</tspan><tspan font-size="8.040" font-weight="bold" dy="2.880">10</tspan><tspan font-size="12.000" font-weight="bold" dy="-2.880">H</tspan><tspan font-size="8.040" font-weight="bold" dy="2.880">18</tspan></text>
<text x="613.22" y="52.50" fill="#8ed88a" text-anchor="start" textLength="11.85" lengthAdjust="spacing"><tspan font-size="11.200" font-weight="bold" dy="0.000">H</tspan><tspan font-size="7.504" font-weight="bold" dy="2.688">2</tspan></text>
<text x="427.14" y="112.20" fill="#e86e76" text-anchor="start" textLength="27.27" lengthAdjust="spacing"><tspan font-size="11.600" font-weight="bold" dy="0.000">C</tspan><tspan font-size="7.772" font-weight="bold" dy="2.784">10</tspan><tspan font-size="11.600" font-weight="bold" dy="-2.784">H</tspan><tspan font-size="7.772" font-weight="bold" dy="2.784">8</tspan></text>
<text x="426.42" y="136.00" fill="#c8a0dc" text-anchor="start" textLength="31.04" lengthAdjust="spacing"><tspan font-size="12.000" font-weight="bold" dy="0.000">C</tspan><tspan font-size="8.040" font-weight="bold" dy="2.880">10</tspan><tspan font-size="12.000" font-weight="bold" dy="-2.880">H</tspan><tspan font-size="8.040" font-weight="bold" dy="2.880">12</tspan></text>
<text x="605.02" y="24.60" fill="#000" text-anchor="start" ><tspan font-size="12.007" font-weight="bold" dy="0.000">0.05Pt/MAO</tspan></text>
<g fill="none" stroke="#b0d9f8" stroke-width="0.8"><circle cx="413.80" cy="221.33" r="1.95"/><circle cx="416.50" cy="220.75" r="1.95"/><circle cx="419.20" cy="220.17" r="1.95"/><circle cx="421.90" cy="218.91" r="1.95"/><circle cx="424.60" cy="217.37" r="1.95"/><circle cx="427.30" cy="215.58" r="1.95"/><circle cx="430.00" cy="211.80" r="1.95"/><circle cx="432.70" cy="207.60" r="1.95"/><circle cx="435.40" cy="201.88" r="1.95"/><circle cx="438.10" cy="194.08" r="1.95"/><circle cx="440.80" cy="185.44" r="1.95"/><circle cx="443.50" cy="176.80" r="1.95"/><circle cx="446.20" cy="169.60" r="1.95"/><circle cx="448.90" cy="165.49" r="1.95"/><circle cx="451.60" cy="164.70" r="1.95"/><circle cx="454.30" cy="166.53" r="1.95"/><circle cx="457.00" cy="169.12" r="1.95"/><circle cx="459.70" cy="171.98" r="1.95"/><circle cx="462.40" cy="175.90" r="1.95"/><circle cx="465.10" cy="180.00" r="1.95"/><circle cx="467.80" cy="184.33" r="1.95"/><circle cx="470.50" cy="188.33" r="1.95"/><circle cx="473.20" cy="192.10" r="1.95"/><circle cx="475.90" cy="194.86" r="1.95"/><circle cx="478.60" cy="197.57" r="1.95"/><circle cx="481.30" cy="200.21" r="1.95"/><circle cx="484.00" cy="202.98" r="1.95"/><circle cx="486.70" cy="205.78" r="1.95"/><circle cx="489.40" cy="208.59" r="1.95"/><circle cx="492.10" cy="211.39" r="1.95"/><circle cx="494.80" cy="214.19" r="1.95"/><circle cx="497.50" cy="216.90" r="1.95"/><circle cx="500.20" cy="219.60" r="1.95"/><circle cx="502.90" cy="222.30" r="1.95"/><circle cx="505.60" cy="225.00" r="1.95"/><circle cx="508.30" cy="227.70" r="1.95"/><circle cx="511.00" cy="230.10" r="1.95"/><circle cx="513.70" cy="231.99" r="1.95"/><circle cx="516.40" cy="233.88" r="1.95"/><circle cx="519.10" cy="235.77" r="1.95"/><circle cx="521.80" cy="237.66" r="1.95"/><circle cx="524.50" cy="239.55" r="1.95"/><circle cx="527.20" cy="240.56" r="1.95"/><circle cx="529.90" cy="241.37" r="1.95"/><circle cx="532.60" cy="242.18" r="1.95"/><circle cx="535.30" cy="242.99" r="1.95"/><circle cx="538.00" cy="243.80" r="1.95"/><circle cx="540.70" cy="244.60" r="1.95"/><circle cx="543.40" cy="245.35" r="1.95"/><circle cx="546.10" cy="246.11" r="1.95"/><circle cx="548.80" cy="246.86" r="1.95"/><circle cx="551.50" cy="247.62" r="1.95"/><circle cx="554.20" cy="248.38" r="1.95"/><circle cx="556.90" cy="249.13" r="1.95"/><circle cx="559.60" cy="249.89" r="1.95"/><circle cx="562.30" cy="250.11" r="1.95"/><circle cx="565.00" cy="250.24" r="1.95"/><circle cx="567.70" cy="250.37" r="1.95"/><circle cx="570.40" cy="250.49" r="1.95"/><circle cx="573.10" cy="250.62" r="1.95"/><circle cx="575.80" cy="250.75" r="1.95"/><circle cx="578.50" cy="250.88" r="1.95"/><circle cx="581.20" cy="251.01" r="1.95"/><circle cx="583.90" cy="251.14" r="1.95"/><circle cx="586.60" cy="251.26" r="1.95"/><circle cx="589.30" cy="251.39" r="1.95"/><circle cx="592.00" cy="251.52" r="1.95"/><circle cx="594.70" cy="251.65" r="1.95"/><circle cx="597.40" cy="251.78" r="1.95"/><circle cx="600.10" cy="251.90" r="1.95"/><circle cx="602.80" cy="251.92" r="1.95"/><circle cx="605.50" cy="251.94" r="1.95"/><circle cx="608.20" cy="251.96" r="1.95"/><circle cx="610.90" cy="251.98" r="1.95"/><circle cx="613.60" cy="252.00" r="1.95"/><circle cx="616.30" cy="252.02" r="1.95"/><circle cx="619.00" cy="252.04" r="1.95"/><circle cx="621.70" cy="252.06" r="1.95"/><circle cx="624.40" cy="252.08" r="1.95"/><circle cx="627.10" cy="252.10" r="1.95"/><circle cx="629.80" cy="252.12" r="1.95"/><circle cx="632.50" cy="252.14" r="1.95"/><circle cx="635.20" cy="252.16" r="1.95"/><circle cx="637.90" cy="252.18" r="1.95"/><circle cx="640.60" cy="252.20" r="1.95"/><circle cx="643.30" cy="252.22" r="1.95"/><circle cx="646.00" cy="252.24" r="1.95"/><circle cx="648.70" cy="252.26" r="1.95"/><circle cx="651.40" cy="252.28" r="1.95"/><circle cx="654.10" cy="252.30" r="1.95"/><circle cx="656.80" cy="252.32" r="1.95"/><circle cx="659.50" cy="252.34" r="1.95"/><circle cx="662.20" cy="252.36" r="1.95"/><circle cx="664.90" cy="252.38" r="1.95"/><circle cx="667.60" cy="252.40" r="1.95"/><circle cx="670.30" cy="252.42" r="1.95"/><circle cx="673.00" cy="252.44" r="1.95"/><circle cx="675.70" cy="252.46" r="1.95"/><circle cx="678.40" cy="252.48" r="1.95"/></g>
<g fill="none" stroke="#cff0c9" stroke-width="0.8"><circle cx="413.80" cy="237.78" r="2.05"/><circle cx="416.40" cy="237.73" r="2.05"/><circle cx="419.00" cy="237.67" r="2.05"/><circle cx="421.60" cy="237.61" r="2.05"/><circle cx="424.20" cy="237.56" r="2.05"/><circle cx="426.80" cy="237.50" r="2.05"/><circle cx="429.40" cy="237.45" r="2.05"/><circle cx="432.00" cy="237.39" r="2.05"/><circle cx="434.60" cy="237.33" r="2.05"/><circle cx="437.20" cy="237.28" r="2.05"/><circle cx="439.80" cy="237.22" r="2.05"/><circle cx="442.40" cy="237.16" r="2.05"/><circle cx="445.00" cy="237.11" r="2.05"/><circle cx="447.60" cy="237.05" r="2.05"/><circle cx="450.20" cy="236.99" r="2.05"/><circle cx="452.80" cy="236.85" r="2.05"/><circle cx="455.40" cy="236.71" r="2.05"/><circle cx="458.00" cy="236.57" r="2.05"/><circle cx="460.60" cy="236.43" r="2.05"/><circle cx="463.20" cy="236.30" r="2.05"/><circle cx="465.80" cy="236.16" r="2.05"/><circle cx="468.40" cy="236.02" r="2.05"/><circle cx="471.00" cy="235.88" r="2.05"/><circle cx="473.60" cy="235.74" r="2.05"/><circle cx="476.20" cy="235.60" r="2.05"/><circle cx="478.80" cy="235.46" r="2.05"/><circle cx="481.40" cy="235.22" r="2.05"/><circle cx="484.00" cy="234.88" r="2.05"/><circle cx="486.60" cy="234.54" r="2.05"/><circle cx="489.20" cy="234.20" r="2.05"/><circle cx="491.80" cy="233.87" r="2.05"/><circle cx="494.40" cy="233.53" r="2.05"/><circle cx="497.00" cy="233.19" r="2.05"/><circle cx="499.60" cy="232.85" r="2.05"/><circle cx="502.20" cy="232.51" r="2.05"/><circle cx="504.80" cy="232.18" r="2.05"/><circle cx="507.40" cy="231.84" r="2.05"/><circle cx="510.00" cy="231.50" r="2.05"/><circle cx="512.60" cy="230.95" r="2.05"/><circle cx="515.20" cy="230.41" r="2.05"/><circle cx="517.80" cy="229.86" r="2.05"/><circle cx="520.40" cy="229.32" r="2.05"/><circle cx="523.00" cy="228.77" r="2.05"/><circle cx="525.60" cy="228.22" r="2.05"/><circle cx="528.20" cy="227.68" r="2.05"/><circle cx="530.80" cy="227.13" r="2.05"/><circle cx="533.40" cy="226.59" r="2.05"/><circle cx="536.00" cy="226.04" r="2.05"/><circle cx="538.60" cy="225.49" r="2.05"/><circle cx="541.20" cy="225.00" r="2.05"/><circle cx="543.80" cy="224.57" r="2.05"/><circle cx="546.40" cy="224.14" r="2.05"/><circle cx="549.00" cy="223.71" r="2.05"/><circle cx="551.60" cy="223.29" r="2.05"/><circle cx="554.20" cy="222.86" r="2.05"/><circle cx="556.80" cy="222.43" r="2.05"/><circle cx="559.40" cy="222.00" r="2.05"/><circle cx="562.00" cy="221.51" r="2.05"/><circle cx="564.60" cy="221.00" r="2.05"/><circle cx="567.20" cy="220.50" r="2.05"/><circle cx="569.80" cy="219.99" r="2.05"/><circle cx="572.40" cy="219.48" r="2.05"/><circle cx="575.00" cy="218.97" r="2.05"/><circle cx="577.60" cy="218.47" r="2.05"/><circle cx="580.20" cy="217.94" r="2.05"/><circle cx="582.80" cy="217.17" r="2.05"/><circle cx="585.40" cy="216.41" r="2.05"/><circle cx="588.00" cy="215.64" r="2.05"/><circle cx="590.60" cy="214.87" r="2.05"/><circle cx="593.20" cy="214.11" r="2.05"/><circle cx="595.80" cy="213.34" r="2.05"/><circle cx="598.40" cy="212.57" r="2.05"/><circle cx="601.00" cy="211.64" r="2.05"/><circle cx="603.60" cy="210.44" r="2.05"/><circle cx="606.20" cy="209.25" r="2.05"/><circle cx="608.80" cy="208.05" r="2.05"/><circle cx="611.40" cy="206.86" r="2.05"/><circle cx="614.00" cy="205.66" r="2.05"/><circle cx="616.60" cy="204.46" r="2.05"/><circle cx="619.20" cy="203.27" r="2.05"/><circle cx="621.80" cy="201.75" r="2.05"/><circle cx="624.40" cy="200.08" r="2.05"/><circle cx="627.00" cy="198.42" r="2.05"/><circle cx="629.60" cy="196.76" r="2.05"/><circle cx="632.20" cy="194.96" r="2.05"/><circle cx="634.80" cy="193.14" r="2.05"/><circle cx="637.40" cy="191.32" r="2.05"/><circle cx="640.00" cy="189.50" r="2.05"/><circle cx="642.60" cy="188.33" r="2.05"/><circle cx="645.20" cy="187.16" r="2.05"/><circle cx="647.80" cy="185.99" r="2.05"/><circle cx="650.40" cy="184.91" r="2.05"/><circle cx="653.00" cy="184.31" r="2.05"/><circle cx="655.60" cy="183.71" r="2.05"/><circle cx="658.20" cy="183.11" r="2.05"/><circle cx="660.80" cy="182.67" r="2.05"/><circle cx="663.40" cy="182.55" r="2.05"/><circle cx="666.00" cy="182.44" r="2.05"/><circle cx="668.60" cy="182.33" r="2.05"/><circle cx="671.20" cy="182.22" r="2.05"/><circle cx="673.80" cy="182.11" r="2.05"/><circle cx="676.40" cy="182.00" r="2.05"/><circle cx="679.00" cy="181.89" r="2.05"/></g>
<line x1="412.5" y1="265.5" x2="681.4" y2="265.5" stroke="#b4b4b4" stroke-width="1" stroke-dasharray="2.6,2.4"/>
<g fill="none" stroke="#f5bdbd" stroke-width="0.8"><circle cx="413.80" cy="263.97" r="1.9"/><circle cx="416.80" cy="262.77" r="1.9"/><circle cx="419.80" cy="262.74" r="1.9"/><circle cx="422.80" cy="263.62" r="1.9"/><circle cx="425.80" cy="263.53" r="1.9"/><circle cx="428.80" cy="265.06" r="1.9"/><circle cx="431.80" cy="265.99" r="1.9"/><circle cx="434.80" cy="264.13" r="1.9"/><circle cx="437.80" cy="265.87" r="1.9"/><circle cx="440.80" cy="266.03" r="1.9"/><circle cx="443.80" cy="265.88" r="1.9"/><circle cx="446.80" cy="263.73" r="1.9"/><circle cx="449.80" cy="263.19" r="1.9"/><circle cx="452.80" cy="263.18" r="1.9"/><circle cx="455.80" cy="263.05" r="1.9"/><circle cx="458.80" cy="263.05" r="1.9"/><circle cx="461.80" cy="264.54" r="1.9"/><circle cx="464.80" cy="265.51" r="1.9"/><circle cx="467.80" cy="265.27" r="1.9"/><circle cx="470.80" cy="263.94" r="1.9"/><circle cx="473.80" cy="264.54" r="1.9"/><circle cx="476.80" cy="265.05" r="1.9"/><circle cx="479.80" cy="262.45" r="1.9"/><circle cx="482.80" cy="264.50" r="1.9"/><circle cx="485.80" cy="265.37" r="1.9"/><circle cx="488.80" cy="264.88" r="1.9"/><circle cx="491.80" cy="264.74" r="1.9"/><circle cx="494.80" cy="263.74" r="1.9"/><circle cx="497.80" cy="262.41" r="1.9"/><circle cx="500.80" cy="263.75" r="1.9"/><circle cx="503.80" cy="261.24" r="1.9"/><circle cx="506.80" cy="261.56" r="1.9"/><circle cx="509.80" cy="260.48" r="1.9"/><circle cx="512.80" cy="256.71" r="1.9"/><circle cx="515.80" cy="255.02" r="1.9"/><circle cx="518.80" cy="255.29" r="1.9"/><circle cx="521.80" cy="253.04" r="1.9"/><circle cx="524.80" cy="249.75" r="1.9"/><circle cx="527.80" cy="248.30" r="1.9"/><circle cx="530.80" cy="247.10" r="1.9"/><circle cx="533.80" cy="248.52" r="1.9"/><circle cx="536.80" cy="246.88" r="1.9"/><circle cx="539.80" cy="243.21" r="1.9"/><circle cx="542.80" cy="245.16" r="1.9"/><circle cx="545.80" cy="245.26" r="1.9"/><circle cx="548.80" cy="243.65" r="1.9"/><circle cx="551.80" cy="242.09" r="1.9"/><circle cx="554.80" cy="242.36" r="1.9"/><circle cx="557.80" cy="240.40" r="1.9"/><circle cx="560.80" cy="239.59" r="1.9"/><circle cx="563.80" cy="242.81" r="1.9"/><circle cx="566.80" cy="241.43" r="1.9"/><circle cx="569.80" cy="240.76" r="1.9"/><circle cx="572.80" cy="242.00" r="1.9"/><circle cx="575.80" cy="239.98" r="1.9"/><circle cx="578.80" cy="241.33" r="1.9"/><circle cx="581.80" cy="241.21" r="1.9"/><circle cx="584.80" cy="239.22" r="1.9"/><circle cx="587.80" cy="239.59" r="1.9"/><circle cx="590.80" cy="239.96" r="1.9"/><circle cx="593.80" cy="240.00" r="1.9"/><circle cx="596.80" cy="241.47" r="1.9"/><circle cx="599.80" cy="240.52" r="1.9"/><circle cx="602.80" cy="241.53" r="1.9"/><circle cx="605.80" cy="240.94" r="1.9"/><circle cx="608.80" cy="244.20" r="1.9"/><circle cx="611.80" cy="242.64" r="1.9"/><circle cx="614.80" cy="243.47" r="1.9"/><circle cx="617.80" cy="244.37" r="1.9"/><circle cx="620.80" cy="246.34" r="1.9"/><circle cx="623.80" cy="246.39" r="1.9"/><circle cx="626.80" cy="249.98" r="1.9"/><circle cx="629.80" cy="250.29" r="1.9"/><circle cx="632.80" cy="252.17" r="1.9"/><circle cx="635.80" cy="253.91" r="1.9"/><circle cx="638.80" cy="253.86" r="1.9"/><circle cx="641.80" cy="256.35" r="1.9"/><circle cx="644.80" cy="255.88" r="1.9"/><circle cx="647.80" cy="255.68" r="1.9"/><circle cx="650.80" cy="259.00" r="1.9"/><circle cx="653.80" cy="257.19" r="1.9"/><circle cx="656.80" cy="258.72" r="1.9"/><circle cx="659.80" cy="260.08" r="1.9"/><circle cx="662.80" cy="259.62" r="1.9"/><circle cx="665.80" cy="258.92" r="1.9"/><circle cx="668.80" cy="259.74" r="1.9"/><circle cx="671.80" cy="260.01" r="1.9"/><circle cx="674.80" cy="260.96" r="1.9"/><circle cx="677.80" cy="258.64" r="1.9"/></g>
<g fill="none" stroke="#e2ccee" stroke-width="0.8"><circle cx="413.80" cy="291.47" r="1.6"/><circle cx="416.80" cy="290.60" r="1.6"/><circle cx="419.80" cy="290.68" r="1.6"/><circle cx="422.80" cy="292.06" r="1.6"/><circle cx="425.80" cy="291.32" r="1.6"/><circle cx="428.80" cy="291.47" r="1.6"/><circle cx="431.80" cy="292.03" r="1.6"/><circle cx="434.80" cy="292.45" r="1.6"/><circle cx="437.80" cy="291.14" r="1.6"/><circle cx="440.80" cy="291.62" r="1.6"/><circle cx="443.80" cy="291.32" r="1.6"/><circle cx="446.80" cy="291.33" r="1.6"/><circle cx="449.80" cy="291.84" r="1.6"/><circle cx="452.80" cy="291.17" r="1.6"/><circle cx="455.80" cy="291.39" r="1.6"/><circle cx="458.80" cy="291.24" r="1.6"/><circle cx="461.80" cy="292.54" r="1.6"/><circle cx="464.80" cy="291.86" r="1.6"/><circle cx="467.80" cy="292.35" r="1.6"/><circle cx="470.80" cy="292.54" r="1.6"/><circle cx="473.80" cy="290.63" r="1.6"/><circle cx="476.80" cy="291.47" r="1.6"/><circle cx="479.80" cy="292.54" r="1.6"/><circle cx="482.80" cy="292.25" r="1.6"/><circle cx="485.80" cy="290.28" r="1.6"/><circle cx="488.80" cy="290.24" r="1.6"/><circle cx="491.80" cy="291.14" r="1.6"/><circle cx="494.80" cy="290.10" r="1.6"/><circle cx="497.80" cy="290.57" r="1.6"/><circle cx="500.80" cy="290.10" r="1.6"/><circle cx="503.80" cy="291.77" r="1.6"/><circle cx="506.80" cy="292.10" r="1.6"/><circle cx="509.80" cy="292.41" r="1.6"/><circle cx="512.80" cy="290.33" r="1.6"/><circle cx="515.80" cy="291.91" r="1.6"/><circle cx="518.80" cy="291.75" r="1.6"/><circle cx="521.80" cy="290.30" r="1.6"/><circle cx="524.80" cy="292.37" r="1.6"/><circle cx="527.80" cy="292.61" r="1.6"/><circle cx="530.80" cy="290.51" r="1.6"/><circle cx="533.80" cy="292.57" r="1.6"/><circle cx="536.80" cy="291.02" r="1.6"/><circle cx="539.80" cy="291.26" r="1.6"/><circle cx="542.80" cy="292.67" r="1.6"/><circle cx="545.80" cy="292.23" r="1.6"/><circle cx="548.80" cy="290.35" r="1.6"/><circle cx="551.80" cy="291.11" r="1.6"/><circle cx="554.80" cy="291.34" r="1.6"/><circle cx="557.80" cy="290.85" r="1.6"/><circle cx="560.80" cy="290.45" r="1.6"/><circle cx="563.80" cy="290.79" r="1.6"/><circle cx="566.80" cy="291.92" r="1.6"/><circle cx="569.80" cy="289.95" r="1.6"/><circle cx="572.80" cy="291.45" r="1.6"/><circle cx="575.80" cy="291.13" r="1.6"/><circle cx="578.80" cy="289.95" r="1.6"/><circle cx="581.80" cy="290.83" r="1.6"/><circle cx="584.80" cy="291.65" r="1.6"/><circle cx="587.80" cy="291.33" r="1.6"/><circle cx="590.80" cy="290.08" r="1.6"/><circle cx="593.80" cy="292.66" r="1.6"/><circle cx="596.80" cy="292.11" r="1.6"/><circle cx="599.80" cy="292.62" r="1.6"/><circle cx="602.80" cy="290.19" r="1.6"/><circle cx="605.80" cy="290.64" r="1.6"/><circle cx="608.80" cy="290.01" r="1.6"/><circle cx="611.80" cy="292.08" r="1.6"/><circle cx="614.80" cy="290.66" r="1.6"/><circle cx="617.80" cy="290.26" r="1.6"/><circle cx="620.80" cy="291.08" r="1.6"/><circle cx="623.80" cy="292.45" r="1.6"/><circle cx="626.80" cy="292.19" r="1.6"/><circle cx="629.80" cy="290.62" r="1.6"/><circle cx="632.80" cy="290.32" r="1.6"/><circle cx="635.80" cy="292.47" r="1.6"/><circle cx="638.80" cy="291.50" r="1.6"/><circle cx="641.80" cy="291.86" r="1.6"/><circle cx="644.80" cy="290.15" r="1.6"/><circle cx="647.80" cy="290.06" r="1.6"/><circle cx="650.80" cy="291.83" r="1.6"/><circle cx="653.80" cy="291.09" r="1.6"/><circle cx="656.80" cy="290.10" r="1.6"/><circle cx="659.80" cy="292.53" r="1.6"/><circle cx="662.80" cy="291.68" r="1.6"/><circle cx="665.80" cy="292.14" r="1.6"/><circle cx="668.80" cy="290.13" r="1.6"/><circle cx="671.80" cy="292.30" r="1.6"/><circle cx="674.80" cy="290.09" r="1.6"/><circle cx="677.80" cy="292.32" r="1.6"/></g>
<line x1="496.9" y1="253.4" x2="496.9" y2="267.4" stroke="#5a5a5a" stroke-width="1.3" stroke-dasharray="3.6,0.9"/>
<text x="462.70" y="255.70" fill="#000" text-anchor="start" ><tspan font-size="10.100" font-weight="bold" dy="0.000">220 °C</tspan></text>
<text x="474.74" y="187.40" fill="#74b0ec" text-anchor="start" textLength="31.04" lengthAdjust="spacing"><tspan font-size="11.600" font-weight="bold" dy="0.000">C</tspan><tspan font-size="7.772" font-weight="bold" dy="2.784">10</tspan><tspan font-size="11.600" font-weight="bold" dy="-2.784">H</tspan><tspan font-size="7.772" font-weight="bold" dy="2.784">18</tspan></text>
<text x="601.19" y="192.30" fill="#8ed88a" text-anchor="start" textLength="12.09" lengthAdjust="spacing"><tspan font-size="11.600" font-weight="bold" dy="0.000">H</tspan><tspan font-size="7.772" font-weight="bold" dy="2.784">2</tspan></text>
<text x="597.14" y="236.80" fill="#e86e76" text-anchor="start" textLength="27.37" lengthAdjust="spacing"><tspan font-size="11.600" font-weight="bold" dy="0.000">C</tspan><tspan font-size="7.772" font-weight="bold" dy="2.784">10</tspan><tspan font-size="11.600" font-weight="bold" dy="-2.784">H</tspan><tspan font-size="7.772" font-weight="bold" dy="2.784">8</tspan></text>
<text x="518.21" y="281.40" fill="#c8a0dc" text-anchor="start" textLength="31.05" lengthAdjust="spacing"><tspan font-size="12.200" font-weight="bold" dy="0.000">C</tspan><tspan font-size="8.174" font-weight="bold" dy="2.928">10</tspan><tspan font-size="12.200" font-weight="bold" dy="-2.928">H</tspan><tspan font-size="8.174" font-weight="bold" dy="2.928">12</tspan></text>
<text x="622.36" y="171.60" fill="#000" text-anchor="start" ><tspan font-size="11.946" font-weight="bold" dy="0.000">3Pt/MAO</tspan></text>
<rect x="412.5" y="13.5" width="268.9" height="288.7" fill="none" stroke="#444" stroke-width="1.3"/>
<line x1="412.5" y1="157.5" x2="681.4" y2="157.5" stroke="#6a6a6a" stroke-width="1.05"/>
<line x1="416.0" y1="302.2" x2="416.0" y2="305.2" stroke="#444" stroke-width="1.2"/>
<line x1="441.0" y1="302.2" x2="441.0" y2="305.2" stroke="#444" stroke-width="1.2"/>
<text x="431.52" y="316.60" font-size="11" font-weight="bold" fill="#000" textLength="18.72" lengthAdjust="spacingAndGlyphs">100</text>
<line x1="466.0" y1="302.2" x2="466.0" y2="305.2" stroke="#444" stroke-width="1.2"/>
<line x1="491.0" y1="302.2" x2="491.0" y2="305.2" stroke="#444" stroke-width="1.2"/>
<text x="481.69" y="316.60" font-size="11" font-weight="bold" fill="#000" textLength="18.72" lengthAdjust="spacingAndGlyphs">200</text>
<line x1="516.0" y1="302.2" x2="516.0" y2="305.2" stroke="#444" stroke-width="1.2"/>
<line x1="541.0" y1="302.2" x2="541.0" y2="305.2" stroke="#444" stroke-width="1.2"/>
<text x="531.74" y="316.60" font-size="11" font-weight="bold" fill="#000" textLength="18.72" lengthAdjust="spacingAndGlyphs">300</text>
<line x1="566.0" y1="302.2" x2="566.0" y2="305.2" stroke="#444" stroke-width="1.2"/>
<line x1="591.0" y1="302.2" x2="591.0" y2="305.2" stroke="#444" stroke-width="1.2"/>
<text x="581.80" y="316.60" font-size="11" font-weight="bold" fill="#000" textLength="18.72" lengthAdjust="spacingAndGlyphs">400</text>
<line x1="616.0" y1="302.2" x2="616.0" y2="305.2" stroke="#444" stroke-width="1.2"/>
<line x1="641.0" y1="302.2" x2="641.0" y2="305.2" stroke="#444" stroke-width="1.2"/>
<text x="631.69" y="316.60" font-size="11" font-weight="bold" fill="#000" textLength="18.72" lengthAdjust="spacingAndGlyphs">500</text>
<line x1="666.0" y1="302.2" x2="666.0" y2="305.2" stroke="#444" stroke-width="1.2"/>
<text x="502.26" y="335.20" fill="#000" text-anchor="start" ><tspan font-size="13.817" font-weight="bold" dy="0.000">Temperature (°C)</tspan></text>
<text transform="translate(394.10,222.00) scale(1.04,1) rotate(-90)" x="-0.98" y="0" fill="#000"><tspan font-size="13.944" font-weight="bold" dy="0.000">MS signal (arb. units)</tspan></text>
<text x="13.15" y="353.50" font-size="16.2" font-weight="bold" fill="#000" textLength="9.01" lengthAdjust="spacingAndGlyphs">c</text>
<rect x="52.2" y="380.00" width="24.00" height="20.20" fill="#b0d3ea"/>
<rect x="76.2" y="372.70" width="24.50" height="27.50" fill="#f3b9c7"/>
<rect x="112" y="400.20" width="24.40" height="75.10" fill="#b0d3ea"/>
<rect x="136.4" y="400.20" width="24.30" height="3.40" fill="#f3b9c7"/>
<rect x="172.1" y="400.20" width="24.10" height="8.10" fill="#b0d3ea"/>
<rect x="196.2" y="400.20" width="24.70" height="13.90" fill="#f3b9c7"/>
<line x1="46.4" y1="400.20" x2="226.3" y2="400.20" stroke="#222" stroke-width="1.3"/>
<rect x="46.4" y="352.0" width="179.9" height="144.8" fill="none" stroke="#4a4a4a" stroke-width="1.4"/>
<line x1="42.9" y1="351.90" x2="46.4" y2="351.90" stroke="#444" stroke-width="1.2"/>
<text x="41.20" y="355.00" fill="#000" text-anchor="end" ><tspan font-size="8.600" font-weight="bold" dy="0.000">1</tspan></text>
<line x1="42.9" y1="400.20" x2="46.4" y2="400.20" stroke="#444" stroke-width="1.2"/>
<text x="41.20" y="403.30" fill="#000" text-anchor="end" ><tspan font-size="8.600" font-weight="bold" dy="0.000">0</tspan></text>
<line x1="42.9" y1="448.50" x2="46.4" y2="448.50" stroke="#444" stroke-width="1.2"/>
<text x="41.20" y="451.60" fill="#000" text-anchor="end" ><tspan font-size="8.600" font-weight="bold" dy="0.000">-1</tspan></text>
<line x1="42.9" y1="496.80" x2="46.4" y2="496.80" stroke="#444" stroke-width="1.2"/>
<text x="41.20" y="499.90" fill="#000" text-anchor="end" ><tspan font-size="8.600" font-weight="bold" dy="0.000">-2</tspan></text>
<line x1="76.2" y1="496.8" x2="76.2" y2="499.6" stroke="#444" stroke-width="1.2"/>
<line x1="136.4" y1="496.8" x2="136.4" y2="499.6" stroke="#444" stroke-width="1.2"/>
<line x1="196.2" y1="496.8" x2="196.2" y2="499.6" stroke="#444" stroke-width="1.2"/>
<text x="63.49" y="512.50" fill="#000" text-anchor="start" textLength="33.29" lengthAdjust="spacing"><tspan font-size="12.800" font-weight="bold" dy="0.000">C</tspan><tspan font-size="8.576" font-weight="bold" dy="3.072">6</tspan><tspan font-size="12.800" font-weight="bold" dy="-3.072">H</tspan><tspan font-size="8.576" font-weight="bold" dy="3.072">12</tspan></text>
<text x="124.59" y="512.50" fill="#000" text-anchor="start" textLength="28.52" lengthAdjust="spacing"><tspan font-size="12.800" font-weight="bold" dy="0.000">C</tspan><tspan font-size="8.576" font-weight="bold" dy="3.072">6</tspan><tspan font-size="12.800" font-weight="bold" dy="-3.072">H</tspan><tspan font-size="8.576" font-weight="bold" dy="3.072">6</tspan></text>
<text x="191.40" y="512.50" fill="#000" text-anchor="start" textLength="14.31" lengthAdjust="spacing"><tspan font-size="12.800" font-weight="bold" dy="0.000">H</tspan><tspan font-size="8.576" font-weight="bold" dy="3.072">2</tspan></text>
<rect x="145.5" y="356.7" width="17.10" height="8.50" fill="#b0d3ea"/>
<rect x="145.5" y="375.1" width="17.10" height="8.60" fill="#f3b9c7"/>
<text x="165.13" y="363.80" fill="#000" text-anchor="start" ><tspan font-size="9.252" font-weight="bold" dy="0.000">0.05Pt/MAO</tspan></text>
<text x="165.31" y="381.30" fill="#000" text-anchor="start" ><tspan font-size="9.367" font-weight="bold" dy="0.000">3Pt/MAO</tspan></text>
<text transform="translate(21.80,479.20) scale(1.0,1) rotate(-90)" x="-0.99" y="0" fill="#000"><tspan font-size="14.155" font-weight="bold" dy="0.000">Reaction order</tspan></text>
<text x="241.45" y="353.50" font-size="16.2" font-weight="bold" fill="#000" textLength="9.89" lengthAdjust="spacingAndGlyphs">d</text>
<rect x="283.2" y="381.10" width="23.90" height="20.50" fill="#b0d3ea"/>
<rect x="307.1" y="378.80" width="24.90" height="22.80" fill="#f3b9c7"/>
<rect x="342.8" y="401.60" width="25.10" height="26.10" fill="#b0d3ea"/>
<rect x="367.9" y="401.60" width="23.90" height="6.20" fill="#f3b9c7"/>
<rect x="403.2" y="401.60" width="24.50" height="9.00" fill="#b0d3ea"/>
<rect x="427.7" y="401.60" width="24.30" height="6.70" fill="#f3b9c7"/>
<line x1="277.2" y1="401.60" x2="457.3" y2="401.60" stroke="#222" stroke-width="1.3"/>
<rect x="277.2" y="353.4" width="180.10000000000002" height="144.20000000000005" fill="none" stroke="#4a4a4a" stroke-width="1.4"/>
<line x1="273.7" y1="353.40" x2="277.2" y2="353.40" stroke="#444" stroke-width="1.2"/>
<text x="272.00" y="356.50" fill="#000" text-anchor="end" ><tspan font-size="8.600" font-weight="bold" dy="0.000">1</tspan></text>
<line x1="273.7" y1="401.60" x2="277.2" y2="401.60" stroke="#444" stroke-width="1.2"/>
<text x="272.00" y="404.70" fill="#000" text-anchor="end" ><tspan font-size="8.600" font-weight="bold" dy="0.000">0</tspan></text>
<line x1="273.7" y1="449.80" x2="277.2" y2="449.80" stroke="#444" stroke-width="1.2"/>
<text x="272.00" y="452.90" fill="#000" text-anchor="end" ><tspan font-size="8.600" font-weight="bold" dy="0.000">-1</tspan></text>
<line x1="273.7" y1="498.00" x2="277.2" y2="498.00" stroke="#444" stroke-width="1.2"/>
<text x="272.00" y="501.10" fill="#000" text-anchor="end" ><tspan font-size="8.600" font-weight="bold" dy="0.000">-2</tspan></text>
<line x1="307.3" y1="497.6" x2="307.3" y2="500.40000000000003" stroke="#444" stroke-width="1.2"/>
<line x1="367.4" y1="497.6" x2="367.4" y2="500.40000000000003" stroke="#444" stroke-width="1.2"/>
<line x1="427.7" y1="497.6" x2="427.7" y2="500.40000000000003" stroke="#444" stroke-width="1.2"/>
<text x="294.29" y="515.00" fill="#000" text-anchor="start" textLength="33.23" lengthAdjust="spacing"><tspan font-size="12.800" font-weight="bold" dy="0.000">C</tspan><tspan font-size="8.576" font-weight="bold" dy="3.072">7</tspan><tspan font-size="12.800" font-weight="bold" dy="-3.072">H</tspan><tspan font-size="8.576" font-weight="bold" dy="3.072">14</tspan></text>
<text x="354.19" y="515.00" fill="#000" text-anchor="start" textLength="28.44" lengthAdjust="spacing"><tspan font-size="12.800" font-weight="bold" dy="0.000">C</tspan><tspan font-size="8.576" font-weight="bold" dy="3.072">7</tspan><tspan font-size="12.800" font-weight="bold" dy="-3.072">H</tspan><tspan font-size="8.576" font-weight="bold" dy="3.072">8</tspan></text>
<text x="418.60" y="515.00" fill="#000" text-anchor="start" textLength="14.71" lengthAdjust="spacing"><tspan font-size="12.800" font-weight="bold" dy="0.000">H</tspan><tspan font-size="8.576" font-weight="bold" dy="3.072">2</tspan></text>
<rect x="370" y="358.4" width="17.80" height="8.20" fill="#b0d3ea"/>
<rect x="370" y="377" width="17.80" height="8.20" fill="#f3b9c7"/>
<text x="393.73" y="365.70" fill="#000" text-anchor="start" ><tspan font-size="9.179" font-weight="bold" dy="0.000">0.05Pt/MAO</tspan></text>
<text x="393.92" y="383.40" fill="#000" text-anchor="start" ><tspan font-size="9.221" font-weight="bold" dy="0.000">3Pt/MAO</tspan></text>
<text transform="translate(251.90,471.80) scale(1.0,1) rotate(-90)" x="-0.99" y="0" fill="#000"><tspan font-size="14.198" font-weight="bold" dy="0.000">Reaction order</tspan></text>
<text x="469.75" y="353.60" font-size="16.2" font-weight="bold" fill="#000" textLength="9.01" lengthAdjust="spacingAndGlyphs">e</text>
<rect x="508.8" y="372.70" width="24.20" height="84.10" fill="#b0d3ea"/>
<rect x="533" y="371.60" width="24.30" height="85.20" fill="#f3b9c7"/>
<rect x="569.2" y="456.80" width="24.10" height="28.60" fill="#b0d3ea"/>
<rect x="593.3" y="456.80" width="24.60" height="7.20" fill="#f3b9c7"/>
<rect x="629" y="428.00" width="24.20" height="28.80" fill="#b0d3ea"/>
<rect x="653.2" y="456.80" width="25.10" height="4.20" fill="#f3b9c7"/>
<line x1="503.7" y1="456.80" x2="683.3" y2="456.80" stroke="#222" stroke-width="1.3"/>
<rect x="503.7" y="353.4" width="179.59999999999997" height="144.90000000000003" fill="none" stroke="#4a4a4a" stroke-width="1.4"/>
<line x1="500.2" y1="374.40" x2="503.7" y2="374.40" stroke="#444" stroke-width="1.2"/>
<text x="498.50" y="377.50" fill="#000" text-anchor="end" ><tspan font-size="8.600" font-weight="bold" dy="0.000">2</tspan></text>
<line x1="500.2" y1="415.60" x2="503.7" y2="415.60" stroke="#444" stroke-width="1.2"/>
<text x="498.50" y="418.70" fill="#000" text-anchor="end" ><tspan font-size="8.600" font-weight="bold" dy="0.000">1</tspan></text>
<line x1="500.2" y1="456.80" x2="503.7" y2="456.80" stroke="#444" stroke-width="1.2"/>
<text x="498.50" y="459.90" fill="#000" text-anchor="end" ><tspan font-size="8.600" font-weight="bold" dy="0.000">0</tspan></text>
<line x1="500.2" y1="498.00" x2="503.7" y2="498.00" stroke="#444" stroke-width="1.2"/>
<text x="498.50" y="501.10" fill="#000" text-anchor="end" ><tspan font-size="8.600" font-weight="bold" dy="0.000">-1</tspan></text>
<line x1="532.8" y1="498.3" x2="532.8" y2="501.1" stroke="#444" stroke-width="1.2"/>
<line x1="592.9" y1="498.3" x2="592.9" y2="501.1" stroke="#444" stroke-width="1.2"/>
<line x1="653" y1="498.3" x2="653" y2="501.1" stroke="#444" stroke-width="1.2"/>
<text x="519.99" y="516.00" fill="#000" text-anchor="start" textLength="38.60" lengthAdjust="spacing"><tspan font-size="12.800" font-weight="bold" dy="0.000">C</tspan><tspan font-size="8.576" font-weight="bold" dy="3.072">10</tspan><tspan font-size="12.800" font-weight="bold" dy="-3.072">H</tspan><tspan font-size="8.576" font-weight="bold" dy="3.072">18</tspan></text>
<text x="580.69" y="516.00" fill="#000" text-anchor="start" textLength="33.94" lengthAdjust="spacing"><tspan font-size="12.800" font-weight="bold" dy="0.000">C</tspan><tspan font-size="8.576" font-weight="bold" dy="3.072">10</tspan><tspan font-size="12.800" font-weight="bold" dy="-3.072">H</tspan><tspan font-size="8.576" font-weight="bold" dy="3.072">8</tspan></text>
<text x="644.60" y="516.00" fill="#000" text-anchor="start" textLength="14.51" lengthAdjust="spacing"><tspan font-size="12.800" font-weight="bold" dy="0.000">H</tspan><tspan font-size="8.576" font-weight="bold" dy="3.072">2</tspan></text>
<rect x="603.9" y="358" width="17.50" height="8.80" fill="#b0d3ea"/>
<rect x="603.9" y="376.8" width="17.50" height="8.40" fill="#f3b9c7"/>
<text x="627.33" y="366.00" fill="#000" text-anchor="start" ><tspan font-size="9.270" font-weight="bold" dy="0.000">0.05Pt/MAO</tspan></text>
<text x="627.51" y="383.10" fill="#000" text-anchor="start" ><tspan font-size="9.392" font-weight="bold" dy="0.000">3Pt/MAO</tspan></text>
<text transform="translate(481.90,474.00) scale(1.0,1) rotate(-90)" x="-0.99" y="0" fill="#000"><tspan font-size="14.183" font-weight="bold" dy="0.000">Reaction order</tspan></text></svg>
</body></html>
